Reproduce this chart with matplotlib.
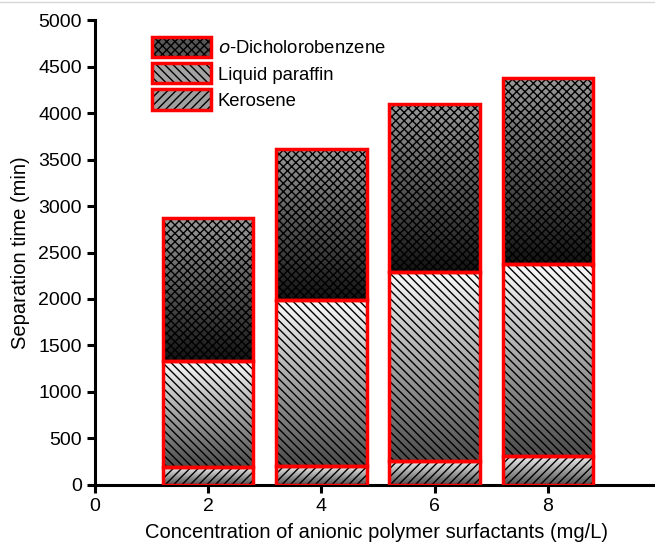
import numpy as np
import matplotlib
matplotlib.use("Agg")
import matplotlib.pyplot as plt
from matplotlib.patches import Rectangle
from matplotlib.legend_handler import HandlerTuple

plt.rcParams['font.family'] = ['Liberation Sans', 'DejaVu Sans']
plt.rcParams['hatch.linewidth'] = 1.0

# data
conc = [2, 4, 6, 8]
kerosene = [190, 200, 255, 310]
paraffin_top = [1335, 1985, 2290, 2375]
dichloro_top = [2870, 3610, 4095, 4375]

paraffin = [p - k for p, k in zip(paraffin_top, kerosene)]
dichloro = [d - p for d, p in zip(dichloro_top, paraffin_top)]

labels = ['$\\mathit{o}$-Dicholorobenzene', 'Liquid paraffin', 'Kerosene']
# (top gray, bottom gray, hatch)
styles = {
    'dichloro': (0.6, 0.08, 'xxxx'),
    'paraffin': (0.98, 0.3, '\\\\\\\\'),
    'kerosene': (0.95, 0.3, '////'),
}

fig = plt.figure(figsize=(6.55, 5.46), dpi=100)
ax = fig.add_axes([0.145, 0.112, 0.86, 0.851])

width = 1.6


def gradient_bar(x, bottom, height, top_c, bot_c, hatch):
    rect = Rectangle((x - width / 2, bottom), width, height,
                     facecolor='none', edgecolor='none')
    ax.add_patch(rect)
    grad = np.linspace(top_c, bot_c, 64).reshape(-1, 1)
    im = ax.imshow(grad, cmap='gray', vmin=0, vmax=1, aspect='auto',
                   extent=(x - width / 2, x + width / 2, bottom, bottom + height),
                   origin='upper', zorder=1)
    im.set_clip_path(rect)
    ax.add_patch(Rectangle((x - width / 2, bottom), width, height,
                           facecolor='none', edgecolor='black', lw=0,
                           hatch=hatch, zorder=2))
    ax.add_patch(Rectangle((x - width / 2, bottom), width, height,
                           facecolor='none', edgecolor='red', lw=2.5, zorder=3))


for i, x in enumerate(conc):
    gradient_bar(x, 0, kerosene[i], *styles['kerosene'])
    gradient_bar(x, paraffin_top[i] - paraffin[i], paraffin[i], *styles['paraffin'])
    gradient_bar(x, dichloro_top[i] - dichloro[i], dichloro[i], *styles['dichloro'])

ax.set_xlim(0, 9.95)
ax.set_ylim(0, 5000)
ax.set_xticks([0, 2, 4, 6, 8])
ax.set_yticks(np.arange(0, 5001, 500))
for s in ['top', 'right']:
    ax.spines[s].set_visible(False)
for s in ['left', 'bottom']:
    ax.spines[s].set_linewidth(2.2)
ax.tick_params(width=2.2, length=6, labelsize=14, direction='out')
ax.set_xlabel('Concentration of anionic polymer surfactants (mg/L)', fontsize=14.5,
              labelpad=6)
ax.set_ylabel('Separation time (min)', fontsize=14.5, labelpad=6)

# legend: hatched gray patch under a red frame
handles = []
for key in ['dichloro', 'paraffin', 'kerosene']:
    top_c, bot_c, hatch = styles[key]
    inner = Rectangle((0, 0), 1, 1, facecolor=str((top_c + bot_c) / 2),
                      edgecolor='black', lw=0, hatch=hatch)
    frame = Rectangle((0, 0), 1, 1, facecolor='none', edgecolor='red', lw=2.5)
    handles.append((inner, frame))
ax.legend(handles, labels, handler_map={tuple: HandlerTuple(ndivide=1)},
          loc='upper left', bbox_to_anchor=(0.232, 0.932), bbox_transform=fig.transFigure,
          frameon=False, fontsize=13.3, handlelength=3.2, handleheight=1.3,
          labelspacing=0.32, handletextpad=0.35, borderaxespad=0, borderpad=0)

fig.add_artist(plt.Line2D([0, 1], [0.997, 0.997], color='#d8d8d8', lw=1,
                          transform=fig.transFigure))

fig.savefig('out.png', dpi=100)
